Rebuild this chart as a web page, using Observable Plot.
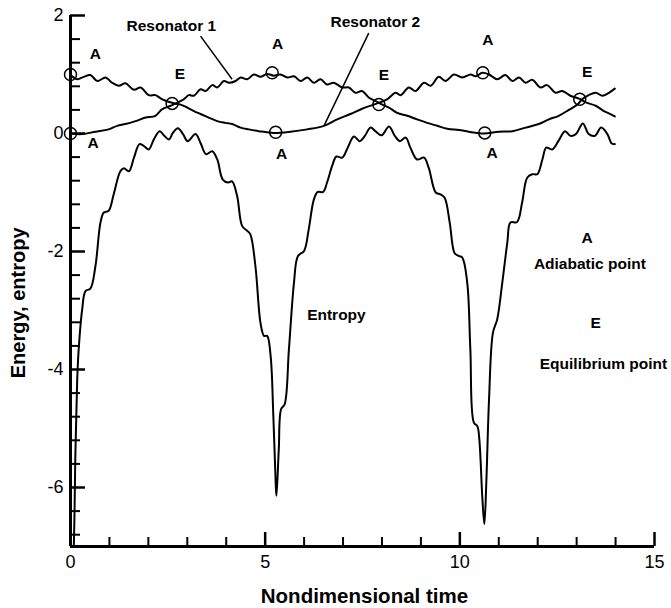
<!DOCTYPE html>
<html><head><meta charset="utf-8">
<script src="https://cdn.jsdelivr.net/npm/d3@7"></script>
<script src="https://cdn.jsdelivr.net/npm/@observablehq/plot@0.6"></script>
<style>body{margin:0;background:#fff}</style>
</head><body><div id="chart"></div>
<script>
// Axis ticks
const xMajor = [0, 5, 10, 15];
const xMinor = [1, 2, 3, 4, 6, 7, 8, 9, 11, 12, 13, 14];
const yMajor = [2, 0, -2, -4, -6];
const yMinor = [1.6, 1.2, 0.8, 0.4, -0.4, -0.8, -1.2, -1.6, -2.4, -2.8, -3.2, -3.6, -4.4, -4.8, -5.2, -5.6, -6.4, -6.8];

// Entropy
const entT = [0.06,0.085,0.128,0.17,0.21,0.30,0.385,0.51,0.64,0.77,0.855,0.98,1.11,1.28,1.37,1.50,1.63,1.77,1.88,2.01,2.14,2.29,2.41,2.53,2.63,2.76,2.89,3.01,3.21,3.34,3.48,3.64,3.77,3.91,4.05,4.15,4.28,4.41,4.54,4.62,4.75,4.88,4.97,5.05,5.14,5.21,5.27,5.29,5.35,5.41,5.50,5.61,5.74,5.84,6.00,6.12,6.25,6.35,6.49,6.59,6.72,6.83,6.98,7.12,7.28,7.43,7.55,7.71,7.83,7.99,8.18,8.33,8.46,8.61,8.73,8.90,9.08,9.20,9.38,9.50,9.61,9.74,9.86,9.95,10.06,10.19,10.27,10.36,10.45,10.50,10.58,10.63,10.68,10.75,10.85,10.96,11.09,11.22,11.30,11.47,11.60,11.73,11.86,11.99,12.12,12.22,12.37,12.53,12.70,12.84,12.98,13.16,13.31,13.47,13.63,13.79,13.90,13.98];
const entV = [-7.3,-6.99,-5.35,-4.22,-3.66,-2.98,-2.67,-2.63,-2.25,-1.51,-1.34,-1.31,-1.03,-0.64,-0.59,-0.64,-0.41,-0.18,-0.21,-0.27,-0.10,0.04,-0.04,-0.10,0.01,0.09,-0.01,-0.13,-0.01,-0.16,-0.35,-0.30,-0.44,-0.78,-0.83,-0.81,-1.06,-1.57,-1.65,-1.71,-2.25,-3.21,-3.43,-3.43,-3.77,-4.79,-5.92,-6.14,-5.35,-4.67,-4.59,-3.66,-2.53,-2.08,-1.99,-1.62,-1.12,-0.99,-0.99,-0.83,-0.55,-0.39,-0.41,-0.24,-0.05,-0.13,-0.05,0.10,0.04,-0.03,0.12,-0.04,-0.13,-0.07,-0.24,-0.44,-0.41,-0.58,-1.00,-1.03,-1.09,-1.51,-2.02,-2.07,-2.10,-2.53,-3.66,-4.90,-4.96,-5.18,-6.20,-6.62,-5.92,-4.51,-3.38,-3.15,-2.53,-1.85,-1.51,-1.50,-1.17,-0.75,-0.69,-0.69,-0.44,-0.24,-0.27,-0.13,0.04,-0.04,-0.01,0.17,-0.01,-0.04,0.10,-0.01,-0.17,-0.18];

// Resonator 2 (starts at 1)
const r2T = [0,0.17,0.34,0.51,0.69,0.90,1.07,1.24,1.41,1.63,1.80,2.01,2.18,2.36,2.61,2.83,3.00,3.17,3.34,3.55,3.77,3.98,4.15,4.37,4.58,4.84,5.22,5.65,6.08,6.51,6.85,7.19,7.49,7.79,8.13,8.35,8.48,8.69,8.86,9.08,9.25,9.46,9.63,9.85,10.06,10.28,10.40,10.58,10.75,10.96,11.17,11.35,11.52,11.69,11.86,12.07,12.24,12.46,12.63,12.84,13.06,13.27,13.49,13.70,13.87,13.98];
const r2V = [0.99,0.92,0.96,0.99,0.89,0.95,0.86,0.81,0.85,0.74,0.78,0.65,0.65,0.58,0.52,0.49,0.44,0.38,0.33,0.27,0.21,0.18,0.16,0.10,0.07,0.04,0.01,0.03,0.07,0.13,0.24,0.33,0.42,0.49,0.58,0.69,0.65,0.78,0.72,0.86,0.81,0.96,0.89,1.00,0.95,1.00,0.97,1.03,1.00,0.92,0.99,0.89,0.95,0.86,0.91,0.78,0.82,0.69,0.72,0.64,0.59,0.52,0.47,0.38,0.33,0.29];

// Resonator 1 (starts at 0)
const r1T = [0,0.30,0.64,0.98,1.20,1.41,1.67,1.93,2.18,2.35,2.57,2.74,2.91,3.04,3.17,3.34,3.47,3.64,3.77,3.94,4.07,4.24,4.37,4.54,4.71,4.88,5.05,5.22,5.39,5.57,5.74,5.91,6.08,6.25,6.42,6.59,6.76,6.98,7.15,7.32,7.49,7.66,7.84,8.01,8.18,8.39,8.65,8.90,9.16,9.42,9.68,9.98,10.23,10.62,11.00,11.35,11.69,12.03,12.29,12.54,12.80,13.02,13.14,13.31,13.49,13.66,13.83,13.98];
const r1V = [0.00,-0.01,0.03,0.07,0.13,0.16,0.21,0.27,0.30,0.41,0.47,0.52,0.58,0.65,0.64,0.75,0.72,0.82,0.78,0.89,0.86,0.89,0.95,0.92,1.00,0.96,1.01,0.98,1.00,0.95,0.97,0.89,0.95,0.86,0.92,0.83,0.86,0.78,0.78,0.69,0.72,0.61,0.55,0.49,0.44,0.35,0.30,0.24,0.18,0.13,0.08,0.06,0.03,0.00,0.03,0.04,0.10,0.16,0.24,0.30,0.40,0.49,0.58,0.65,0.69,0.64,0.69,0.76];

// Marked points
const markT = [0, 0, 5.18, 5.27, 10.59, 10.64, 2.61, 7.92, 13.08];
const markV = [1, 0, 1.03, 0.02, 1.03, 0.01, 0.51, 0.49, 0.58];

// Annotation labels
const annText = ["A","A","E","A","A","E","A","A","E","A","Adiabatic point","E","Equilibrium point","Entropy","Resonator 1","Resonator 2"];
const annT = [0.64,0.58,2.81,5.32,5.42,8.05,10.72,10.83,13.27,13.27,13.34,13.49,13.69,6.83,2.59,7.83];
const annV = [1.35,-0.17,1.01,1.52,-0.35,0.99,1.58,-0.33,1.04,-1.77,-2.22,-3.21,-3.90,-3.08,1.82,1.89];

// Leader lines
const leadT1 = [3.34, 7.66];
const leadV1 = [1.65, 1.70];
const leadT2 = [4.15, 6.51];
const leadV2 = [0.92, 0.13];

const W = 671, H = 608, mL = 70, mR = 17, mT = 15, mB = 62;
const pW = W - mL - mR, pH = H - mT - mB;

const toRows = (ts, vs) => ts.map((t, i) => ({t, v: vs[i]}));
const entropy = toRows(entT, entV);
const res1 = toRows(r1T, r1V);
const res2 = toRows(r2T, r2V);
const marks = toRows(markT, markV);
const ann = annText.map((s, i) => ({s, t: annT[i], v: annV[i]}));
const leads = leadT1.map((t, i) => ({t1: t, v1: leadV1[i], t2: leadT2[i], v2: leadV2[i]}));

const chart = Plot.plot({
  width: W, height: H,
  marginLeft: mL, marginRight: mR, marginTop: mT, marginBottom: mB,
  style: {fontFamily: "'Liberation Sans', Arial, sans-serif", background: "#fff", overflow: "visible"},
  x: {domain: [0, 15], axis: null},
  y: {domain: [-7, 2], axis: null},
  marks: [
    Plot.line(entropy, {x: "t", y: "v", curve: "catmull-rom", stroke: "#000", strokeWidth: 2, clip: true}),
    Plot.line(res1, {x: "t", y: "v", curve: "catmull-rom", stroke: "#000", strokeWidth: 2}),
    Plot.line(res2, {x: "t", y: "v", curve: "catmull-rom", stroke: "#000", strokeWidth: 2}),
    Plot.dot(marks, {x: "t", y: "v", r: 6, stroke: "#000", strokeWidth: 1.5, fill: "none"}),
    Plot.link(leads, {x1: "t1", y1: "v1", x2: "t2", y2: "v2", stroke: "#000", strokeWidth: 1.5}),
    Plot.text(ann, {x: "t", y: "v", text: "s", fontWeight: "bold", fontSize: 15.5, fill: "#000"}),
    // axes
    Plot.ruleX([0], {stroke: "#000", strokeWidth: 3}),
    Plot.ruleY([-7], {stroke: "#000", strokeWidth: 3}),
    Plot.tickY(yMajor, {y: d => d, insetRight: pW - 15, stroke: "#000", strokeWidth: 2.5}),
    Plot.tickY(yMinor, {y: d => d, insetRight: pW - 10, stroke: "#000", strokeWidth: 2}),
    Plot.tickX(xMajor, {x: d => d, insetTop: pH - 14, stroke: "#000", strokeWidth: 2.5}),
    Plot.tickX(xMinor, {x: d => d, insetTop: pH - 9, stroke: "#000", strokeWidth: 2}),
    Plot.text(yMajor, {y: d => d, text: d => String(d), frameAnchor: "left", textAnchor: "end", dx: -7, fontSize: 18, fill: "#000"}),
    Plot.text(xMajor, {x: d => d, text: d => String(d), frameAnchor: "bottom", lineAnchor: "top", dy: 9, fontSize: 18, fill: "#000"}),
    Plot.text(["Nondimensional time"], {x: 7.55, text: d => d, frameAnchor: "bottom", lineAnchor: "top", dy: 42, fontWeight: "bold", fontSize: 20.5, fill: "#000"}),
    Plot.text(["Energy, entropy"], {y: -2.87, text: d => d, frameAnchor: "left", textAnchor: "middle", dx: -52, rotate: -90, fontWeight: "bold", fontSize: 20, fill: "#000"})
  ]
});
document.getElementById("chart").appendChild(chart);
</script>
</body></html>
